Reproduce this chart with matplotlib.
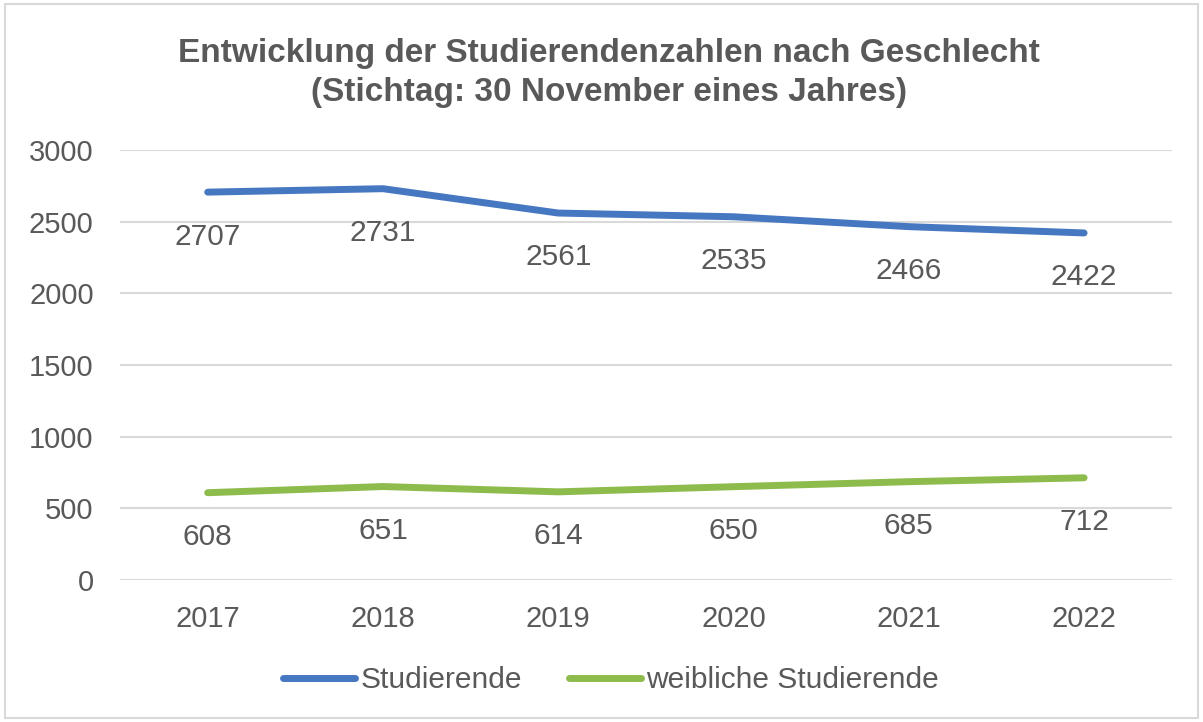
import matplotlib.pyplot as plt
from matplotlib.patches import Rectangle

years = ["2017", "2018", "2019", "2020", "2021", "2022"]
studierende = [2707, 2731, 2561, 2535, 2466, 2422]
weiblich = [608, 651, 614, 650, 685, 712]
y_ticks = [0, 500, 1000, 1500, 2000, 2500, 3000]

text_color = "#595959"
blue = "#4677c1"
green = "#8dbb4c"

plt.rcParams["font.family"] = ["Liberation Sans", "DejaVu Sans"]

fig = plt.figure(figsize=(12.03, 7.22), dpi=100)
fig.patches.append(Rectangle((0.004, 0.006), 0.992, 0.988, transform=fig.transFigure,
                             fill=False, edgecolor="#d9d9d9", linewidth=1.5))
ax = fig.add_axes([0.0998, 0.197, 0.8742, 0.595])

x = list(range(len(years)))
ax.plot(x, studierende, color=blue, linewidth=5, solid_capstyle="round", label="Studierende")
ax.plot(x, weiblich, color=green, linewidth=5, solid_capstyle="round", label="weibliche Studierende")

for series in (studierende, weiblich):
    for xi, v in zip(x, series):
        ax.annotate(str(v), (xi, v), xytext=(0, -32), textcoords="offset points",
                    ha="center", va="center", fontsize=21.5, color=text_color)

ax.set_xlim(-0.5, len(years) - 0.5)
ax.set_ylim(0, 3000)
ax.set_yticks(y_ticks)
ax.set_xticks(x)
ax.set_xticklabels(years)
ax.grid(axis="y", color="#d9d9d9", linewidth=1.5)
ax.set_axisbelow(True)
for s in ax.spines.values():
    s.set_visible(False)
ax.tick_params(length=0, labelsize=21, labelcolor=text_color)
ax.tick_params(axis="y", pad=19)
ax.tick_params(axis="x", pad=18)

fig.text(0.506, 0.899, "Entwicklung der Studierendenzahlen nach Geschlecht\n(Stichtag: 30 November eines Jahres)",
         ha="center", va="center", fontsize=24, fontweight="bold", color=text_color, linespacing=1.32)

fig.legend(loc="center", bbox_to_anchor=(0.508, 0.058), ncol=2, frameon=False,
           fontsize=21.5, labelcolor=text_color, handlelength=2.4, handletextpad=0.18,
           columnspacing=1.6)

fig.savefig("out.png", dpi=100)
